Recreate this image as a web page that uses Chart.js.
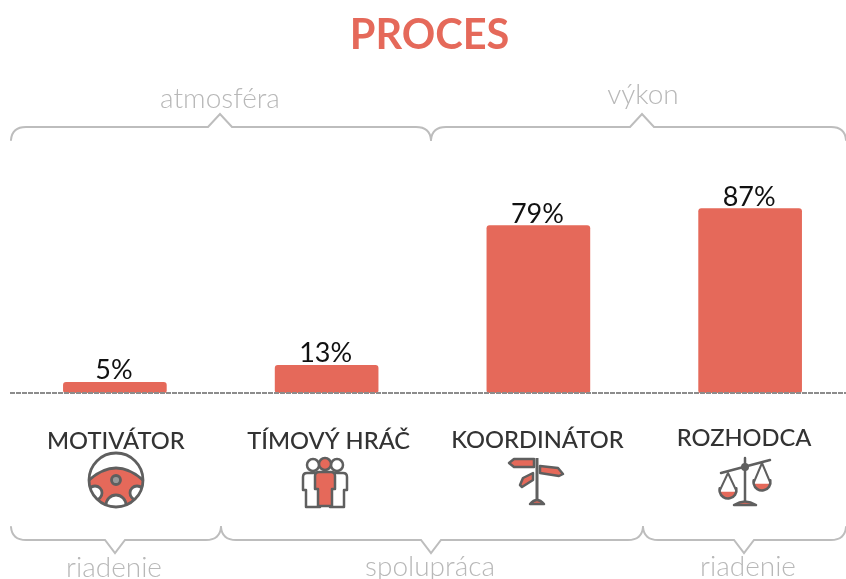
<!DOCTYPE html>
<html>
<head>
<meta charset="utf-8">
<script src="https://cdn.jsdelivr.net/npm/chart.js@4"></script>
<style>
  html, body { margin: 0; padding: 0; background: #fff; overflow: hidden; width: 846px; height: 579px; }
</style>
</head>
<body>
<canvas id="myChart" width="866" height="579" style="display:block"></canvas>
<script>
const roles = ["MOTIVÁTOR", "TÍMOVÝ HRÁČ", "KOORDINÁTOR", "ROZHODCA"];
const percents = [5, 13, 79, 87];
const topGroups = ["atmosféra", "výkon"];
const bottomGroups = ["riadenie", "spolupráca", "riadenie"];
const titleText = "PROCES";

const RED = "#e5695a";
const DARK = "#333333";
const ICON = "#5f5f5f";
const GREY = "#bdbdbd";
const FONT = "Lato, sans-serif";

// label nudges, the labels in the picture are not quite centred on the bars
const labelDx = [1, 2, -1, -6];
const labelDy = [0, 0, -1, -3];

function brace(ctx, x0, x1, tipX, y, dir, halfTip) {
  // dir -1 = tip up (top braces), 1 = tip down (bottom braces)
  const r = 13, tip = 13;
  ctx.beginPath();
  ctx.moveTo(x0, y - dir * r);
  ctx.quadraticCurveTo(x0 + 1, y, x0 + r + 2, y);
  ctx.lineTo(tipX - halfTip, y);
  ctx.lineTo(tipX, y + dir * tip);
  ctx.lineTo(tipX + halfTip, y);
  ctx.lineTo(x1 - r - 2, y);
  ctx.quadraticCurveTo(x1 - 1, y, x1, y - dir * r);
  ctx.stroke();
}

function wheel(ctx, x, y) {
  ctx.lineWidth = 2.8;
  ctx.strokeStyle = ICON;
  ctx.save();
  ctx.beginPath();
  ctx.arc(x, y, 27, 0, Math.PI * 2);
  ctx.clip();
  ctx.fillStyle = RED;
  ctx.beginPath();
  ctx.moveTo(x - 28, y + 1);
  ctx.quadraticCurveTo(x, y - 25, x + 28, y + 1);
  ctx.lineTo(x + 28, y + 28);
  ctx.lineTo(x - 28, y + 28);
  ctx.closePath();
  ctx.fill();
  ctx.stroke();
  // holes between the spokes
  ctx.fillStyle = "#fff";
  [[-21, 13, 7], [21, 13, 7], [0, 25, 10]].forEach((h) => {
    ctx.beginPath();
    ctx.arc(x + h[0], y + h[1], h[2], 0, Math.PI * 2);
    ctx.fill();
    ctx.stroke();
  });
  ctx.restore();
  ctx.beginPath();
  ctx.arc(x, y, 27, 0, Math.PI * 2);
  ctx.stroke();
  ctx.fillStyle = "#999";
  ctx.beginPath();
  ctx.arc(x, y, 4.5, 0, Math.PI * 2);
  ctx.fill();
  ctx.stroke();
}

function person(ctx, x, y, fill) {
  ctx.fillStyle = fill;
  ctx.beginPath();
  ctx.arc(x, y - 17, 6, 0, Math.PI * 2);
  ctx.fill();
  ctx.stroke();
  ctx.beginPath();
  ctx.moveTo(x - 10, y + 8);
  ctx.lineTo(x - 10, y - 5);
  ctx.quadraticCurveTo(x - 10, y - 9, x - 6, y - 9);
  ctx.lineTo(x + 6, y - 9);
  ctx.quadraticCurveTo(x + 10, y - 9, x + 10, y - 5);
  ctx.lineTo(x + 10, y + 8);
  ctx.lineTo(x + 7, y + 8);
  ctx.lineTo(x + 7, y + 25);
  ctx.lineTo(x - 7, y + 25);
  ctx.lineTo(x - 7, y + 8);
  ctx.closePath();
  ctx.fill();
  ctx.stroke();
}

function team(ctx, x, y) {
  ctx.lineWidth = 2.5;
  ctx.strokeStyle = ICON;
  ctx.lineJoin = "round";
  person(ctx, x - 12, y, "#fff");
  person(ctx, x + 12, y, "#fff");
  person(ctx, x, y - 1, RED);
}

function signpost(ctx, x, y) {
  ctx.lineWidth = 2.5;
  ctx.strokeStyle = ICON;
  ctx.lineJoin = "round";
  ctx.fillStyle = ICON;
  ctx.fillRect(x - 1.5, y - 21, 3, 44);
  ctx.fillStyle = RED;
  const signs = [
    [[-3, -20], [-23, -20], [-28, -16], [-23, -12], [-3, -12]],
    [[3, -13], [21, -11], [26, -5], [22, -3], [3, -6]],
    [[-4, -6], [-4, 1], [-15, 8], [-17, 6], [-14, -1]],
  ];
  signs.forEach((s) => {
    ctx.beginPath();
    s.forEach((p, i) => (i ? ctx.lineTo(x + p[0], y + p[1]) : ctx.moveTo(x + p[0], y + p[1])));
    ctx.closePath();
    ctx.fill();
    ctx.stroke();
  });
  ctx.beginPath();
  ctx.moveTo(x - 7, y + 25);
  ctx.quadraticCurveTo(x, y + 17, x + 7, y + 25);
  ctx.closePath();
  ctx.fill();
  ctx.stroke();
}

function pan(ctx, x, y, apex) {
  ctx.lineWidth = 2;
  ctx.beginPath();
  ctx.moveTo(x - 8, y);
  ctx.lineTo(x, y - apex);
  ctx.lineTo(x + 8, y);
  ctx.stroke();
  ctx.lineWidth = 2.5;
  ctx.fillStyle = RED;
  ctx.beginPath();
  ctx.arc(x, y, 8.5, 0.2, Math.PI - 0.2);
  ctx.closePath();
  ctx.fill();
  ctx.beginPath();
  ctx.arc(x, y, 8.5, -0.2, Math.PI + 0.2);
  ctx.stroke();
}

function scales(ctx, x, y) {
  ctx.lineWidth = 2.5;
  ctx.strokeStyle = ICON;
  ctx.lineJoin = "round";
  ctx.beginPath();
  ctx.moveTo(x, y - 26);
  ctx.lineTo(x, y + 18);
  ctx.moveTo(x - 24, y - 11);
  ctx.lineTo(x + 25, y - 24);
  ctx.stroke();
  ctx.fillStyle = ICON;
  ctx.beginPath();
  ctx.arc(x, y - 17, 4, 0, Math.PI * 2);
  ctx.fill();
  pan(ctx, x - 17, y + 6, 17);
  pan(ctx, x + 17, y - 2, 19);
  ctx.fillStyle = RED;
  ctx.beginPath();
  ctx.moveTo(x - 11, y + 21);
  ctx.quadraticCurveTo(x, y + 14, x + 11, y + 21);
  ctx.closePath();
  ctx.fill();
  ctx.stroke();
}

const decorations = {
  id: "decorations",
  afterDraw(chart) {
    const ctx = chart.ctx;
    const xs = chart.scales.x;
    const ys = chart.scales.y;
    const base = ys.getPixelForValue(0);
    ctx.save();

    // title
    ctx.textAlign = "center";
    ctx.textBaseline = "alphabetic";
    ctx.fillStyle = RED;
    ctx.font = "700 41.5px " + FONT;
    ctx.fillText(titleText, 429.5, 49);

    // dashed base line
    ctx.strokeStyle = "#8c8c8c";
    ctx.lineWidth = 2;
    ctx.setLineDash([5, 1]);
    ctx.beginPath();
    ctx.moveTo(10, base);
    ctx.lineTo(846, base);
    ctx.stroke();
    ctx.setLineDash([]);

    // values above the bars
    ctx.fillStyle = "#111";
    ctx.font = "400 27px " + FONT;
    chart.getDatasetMeta(0).data.forEach((bar, i) => {
      ctx.fillText(percents[i] + "%", bar.x - 1, bar.y - 3);
    });

    // role names
    ctx.fillStyle = DARK;
    ctx.font = "500 23.7px " + FONT;
    roles.forEach((r, i) => {
      ctx.fillText(r, xs.getPixelForTick(i) + labelDx[i], 449 + labelDy[i]);
    });

    // braces
    ctx.strokeStyle = GREY;
    ctx.lineWidth = 2;
    ctx.lineCap = "round";
    brace(ctx, 11, 431, 220, 127, -1, 12);
    brace(ctx, 431, 846, 642, 127, -1, 12);
    brace(ctx, 11, 221, 115, 540, 1, 10);
    brace(ctx, 221, 643, 431, 540, 1, 10);
    brace(ctx, 643, 846, 744, 540, 1, 10);

    // group names
    ctx.fillStyle = "#b8b8b8";
    ctx.font = "300 28px " + FONT;
    ctx.fillText(topGroups[0], 220, 108);
    ctx.fillText(topGroups[1], 643, 104);
    ctx.fillText(bottomGroups[0], 114, 577);
    ctx.fillText(bottomGroups[1], 430, 576);
    ctx.fillText(bottomGroups[2], 748, 576);

    // icons
    wheel(ctx, 116, 480);
    team(ctx, 325, 482);
    signpost(ctx, 537, 479);
    scales(ctx, 745, 484);
    ctx.restore();
  },
};

new Chart("myChart", {
  type: "bar",
  data: {
    labels: roles,
    datasets: [
      {
        data: percents,
        backgroundColor: RED,
        borderRadius: 3,
        borderSkipped: false,
        barThickness: 103,
      },
    ],
  },
  options: {
    responsive: false,
    animation: false,
    layout: { padding: { left: 9, right: 10, top: 181, bottom: 186 } },
    plugins: { legend: { display: false }, tooltip: { enabled: false } },
    scales: {
      x: { display: false, grid: { display: false } },
      y: { display: false, min: 0, max: 100, grid: { display: false } },
    },
  },
  plugins: [decorations],
});
</script>
</body>
</html>
